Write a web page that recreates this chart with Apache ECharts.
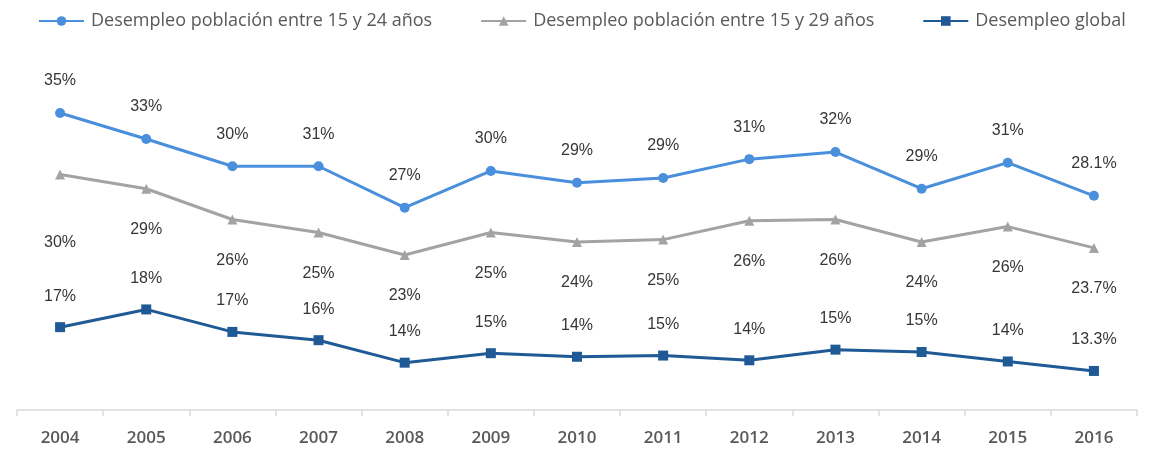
<!DOCTYPE html>
<html>
<head>
<meta charset="utf-8">
<script src="https://cdn.jsdelivr.net/npm/echarts@6/dist/echarts.min.js"></script>
<style>
html,body{margin:0;padding:0;background:#fff;}
#chart{width:1155px;height:452px;}
</style>
</head>
<body>
<div id="chart"></div>
<script>
const years = ['2004','2005','2006','2007','2008','2009','2010','2011','2012','2013','2014','2015','2016'];
const seriesNames = ['Desempleo población entre 15 y 24 años','Desempleo población entre 15 y 29 años','Desempleo global'];
const youth1524 = [35.1,32.9,30.6,30.6,27.1,30.2,29.2,29.6,31.2,31.8,28.7,30.9,28.1];
const youth1529 = [29.9,28.7,26.1,25.0,23.1,25.0,24.2,24.4,26.0,26.1,24.2,25.5,23.7];
const globalRate = [17.0,18.5,16.6,15.9,14.0,14.8,14.5,14.6,14.2,15.1,14.9,14.1,13.3];
const labels1524 = ['35%','33%','30%','31%','27%','30%','29%','29%','31%','32%','29%','31%','28.1%'];
const labels1529 = ['30%','29%','26%','25%','23%','25%','24%','25%','26%','26%','24%','26%','23.7%'];
const labelsGlobal = ['17%','18%','17%','16%','14%','15%','14%','15%','14%','15%','15%','14%','13.3%'];

const labelFont = {fontFamily:'Liberation Sans', fontSize:16, color:'#363636'};

function build(values, texts, extra){
  return values.map((v,i)=>{
    const item = {value:v, label:{formatter:texts[i]}};
    if(extra && extra[i]) item.label = Object.assign(item.label, extra[i]);
    return item;
  });
}

const chart = echarts.init(document.getElementById('chart'), null, {renderer:'canvas'});
chart.setOption({
  animation:false,
  backgroundColor:'#ffffff',
  legend:{
    top:7, left:33,
    itemWidth:45, itemHeight:12, itemGap:48,
    textStyle:{fontFamily:'Open Sans', fontSize:18, color:'#595959', padding:[0,0,0,2]},
    data:seriesNames
  },
  grid:{left:17, right:18, top:55, bottom:42},
  xAxis:{
    type:'category', data:years, boundaryGap:true,
    axisLine:{lineStyle:{color:'#D9D9D9', width:1.5}},
    axisTick:{show:true, length:6, lineStyle:{color:'#D9D9D9', width:1.5}},
    axisLabel:{fontFamily:'Open Sans', fontSize:17, fontWeight:600, color:'#595959', margin:20}
  },
  yAxis:{type:'value', min:10, max:40, show:false, splitLine:{show:false}},
  series:[
    {
      name:seriesNames[0], type:'line', symbol:'circle', symbolSize:10,
      itemStyle:{color:'#4A8FDB'}, lineStyle:{color:'#4A8FDB', width:3},
      label:Object.assign({show:true, position:'top', distance:19}, labelFont),
      data:build(youth1524, labels1524)
    },
    {
      name:seriesNames[1], type:'line', symbol:'triangle', symbolSize:10,
      itemStyle:{color:'#A3A3A3'}, lineStyle:{color:'#A3A3A3', width:3},
      label:Object.assign({show:true, position:'bottom', distance:28}, labelFont),
      data:build(youth1529, labels1529, {0:{distance:55}})
    },
    {
      name:seriesNames[2], type:'line', symbol:'rect', symbolSize:10,
      itemStyle:{color:'#1F5A96'}, lineStyle:{color:'#1F5A96', width:3},
      label:Object.assign({show:true, position:'top', distance:18}, labelFont),
      data:build(globalRate, labelsGlobal)
    }
  ]
});
</script>
</body>
</html>
